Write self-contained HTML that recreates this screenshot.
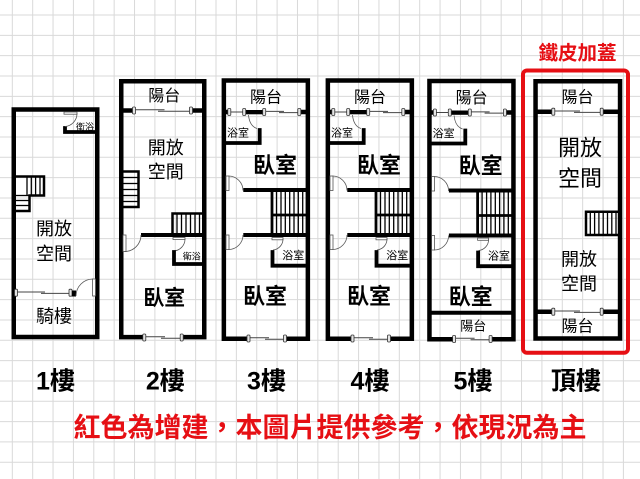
<!DOCTYPE html>
<html><head><meta charset="utf-8"><style>
html,body{margin:0;padding:0;background:#fff;}
svg{display:block;}
.t{font-family:"Liberation Sans","Noto Sans CJK TC",sans-serif;text-anchor:middle;fill:#000;}
.b{font-weight:bold;}
.w{fill:none;stroke:#000;stroke-width:4.5;stroke-linejoin:miter;}
.iw{fill:none;stroke:#000;stroke-width:3.8;stroke-linecap:square;}
.th{stroke:#444;stroke-width:1;fill:none;}
.cap{fill:#e4e4e4;stroke:#333;stroke-width:0.8;}
.leaf{fill:#fff;stroke:#555;stroke-width:0.8;}
.arc{fill:none;stroke:#555;stroke-width:0.8;}
.st{fill:none;stroke:#000;stroke-width:2.5;}
.tr{stroke:#000;stroke-width:1.3;}
</style></head><body>
<svg width="640" height="479" viewBox="0 0 640 479" xmlns="http://www.w3.org/2000/svg">
<rect width="640" height="479" fill="#fff"/>
<path stroke="#d9d9d9" stroke-width="1" fill="none" d="M12.3,0V479M32.67,0V479M53.04,0V479M73.41,0V479M93.78,0V479M114.15,0V479M134.52,0V479M154.89,0V479M175.26,0V479M195.63,0V479M216,0V479M236.37,0V479M256.74,0V479M277.11,0V479M297.48,0V479M317.85,0V479M338.22,0V479M358.59,0V479M378.96,0V479M399.33,0V479M419.7,0V479M440.07,0V479M460.44,0V479M480.81,0V479M501.18,0V479M521.55,0V479M541.92,0V479M562.29,0V479M582.66,0V479M603.03,0V479M623.4,0V479
M0,15H640M0,35.33H640M0,55.66H640M0,75.99H640M0,96.32H640M0,116.65H640M0,136.98H640M0,157.31H640M0,177.64H640M0,197.97H640M0,218.3H640M0,238.63H640M0,258.96H640M0,279.29H640M0,299.62H640M0,319.95H640M0,340.28H640M0,360.61H640M0,380.94H640M0,401.27H640M0,421.6H640M0,441.93H640M0,462.26H640"/>

<!-- Floor 1 -->
<g>
<path class="w" d="M13.75,109.5H97.25V337H13.75Z"/>
<path class="iw" d="M65,128V132H95"/>
<rect class="leaf" x="64" y="112" width="13" height="2.2"/>
<path class="arc" d="M77,113.5A13,13 0 0 1 65,126.5"/>
<text class="t" x="85" y="129.8" font-size="9">衛浴</text>
<path class="st" d="M15,176.5H44V195.5H29.5V211H15"/>
<line class="tr" x1="27" y1="176.5" x2="27" y2="195.5"/>
<line class="tr" x1="31.3" y1="176.5" x2="31.3" y2="195.5"/>
<line class="tr" x1="35.6" y1="176.5" x2="35.6" y2="195.5"/>
<line class="tr" x1="40" y1="176.5" x2="40" y2="195.5"/>
<line class="tr" x1="15" y1="195.5" x2="29.5" y2="195.5"/>
<line class="tr" x1="15" y1="200.5" x2="29.5" y2="200.5"/>
<line class="tr" x1="15" y1="205.5" x2="29.5" y2="205.5"/>
<text class="t" x="54" y="234.8" font-size="18">開放</text>
<text class="t" x="54" y="259.8" font-size="18">空間</text>
<line class="th" x1="16" y1="292" x2="45" y2="292"/>
<line class="th" x1="41" y1="293.4" x2="70.5" y2="293.4" stroke-width="1.4"/>
<rect class="cap" x="14.5" y="289.2" width="3" height="7" rx="1"/>
<rect class="cap" x="69" y="289.2" width="3" height="7" rx="1"/>
<rect x="72" y="290.5" width="4" height="6" fill="#000"/>
<path class="arc" d="M76,296A17,17 0 0 1 93,279"/>
<rect class="leaf" x="92.5" y="279" width="3" height="17"/>
<text class="t" x="54" y="322.5" font-size="18">騎樓</text>
</g>

<!-- Floor 2 -->
<g>
<path class="w" d="M144,337.1H121.25V81.25H204.25V337.1H182"/>
<line x1="121.25" y1="110.5" x2="133" y2="110.5" stroke="#000" stroke-width="4.5"/>
<line x1="191" y1="110.5" x2="204.25" y2="110.5" stroke="#000" stroke-width="4.5"/>
<line class="th" x1="134" y1="109.8" x2="164.5" y2="109.8"/>
<line class="th" x1="158" y1="111.2" x2="191" y2="111.2" stroke-width="1.3"/>
<rect class="cap" x="132.5" y="107" width="3" height="7" rx="1"/>
<rect class="cap" x="189.5" y="107" width="3" height="7" rx="1"/>
<text class="t" x="164.3" y="100.8" font-size="16">陽台</text>
<text class="t" x="165.8" y="153.8" font-size="18">開放</text>
<text class="t" x="165.8" y="178.2" font-size="18">空間</text>
<path class="st" d="M123,171.5H138.5V207H123"/>
<line class="tr" x1="123" y1="177.5" x2="138.5" y2="177.5"/>
<line class="tr" x1="123" y1="183.5" x2="138.5" y2="183.5"/>
<line class="tr" x1="123" y1="189.5" x2="138.5" y2="189.5"/>
<line class="tr" x1="123" y1="195.5" x2="138.5" y2="195.5"/>
<line class="tr" x1="123" y1="201.5" x2="138.5" y2="201.5"/>
<path class="st" d="M172.5,235V213.5H203"/>
<line class="tr" x1="177" y1="213.5" x2="177" y2="235"/>
<line class="tr" x1="181.5" y1="213.5" x2="181.5" y2="235"/>
<line class="tr" x1="186" y1="213.5" x2="186" y2="235"/>
<line class="tr" x1="190.5" y1="213.5" x2="190.5" y2="235"/>
<line class="tr" x1="195" y1="213.5" x2="195" y2="235"/>
<line class="tr" x1="199.5" y1="213.5" x2="199.5" y2="235"/>
<line x1="141" y1="235" x2="204" y2="235" stroke="#000" stroke-width="4"/>
<rect class="leaf" x="123" y="235" width="3" height="16.5"/>
<path class="arc" d="M124.5,251.5A16.5,16.5 0 0 0 141,235"/>
<rect class="leaf" x="173" y="237.5" width="12" height="2"/>
<path class="arc" d="M185,239A12,12 0 0 1 173.5,251"/>
<path class="iw" d="M174,252V264H202"/>
<text class="t" x="191.7" y="259.3" font-size="9">衛浴</text>
<text class="t b" x="164.2" y="304.9" font-size="21">臥室</text>
<line class="th" x1="144.3" y1="336.8" x2="165" y2="336.8"/>
<line class="th" x1="161" y1="338.2" x2="181.7" y2="338.2"/>
<rect class="cap" x="142.8" y="334" width="3" height="7" rx="1"/>
<rect class="cap" x="180.2" y="334" width="3" height="7" rx="1"/>
</g>

<!-- Floor 3 -->
<g>
<path class="w" d="M248.5,338.7H223.85V80.5H307.85V338.7H285"/>
<line x1="223.85" y1="112" x2="228" y2="112" stroke="#000" stroke-width="4.5"/>
<line x1="301" y1="112" x2="307.85" y2="112" stroke="#000" stroke-width="4.5"/>
<line class="th" x1="230" y1="112" x2="243" y2="112"/>
<rect x="244.5" y="110" width="19" height="4.3" fill="#000"/>
<line class="th" x1="265" y1="111.4" x2="284" y2="111.4"/>
<line class="th" x1="279" y1="112.6" x2="298.5" y2="112.6"/>
<rect class="cap" x="227.8" y="108.5" width="3" height="7" rx="1"/>
<rect class="cap" x="242.7" y="108.5" width="3" height="7" rx="1"/>
<rect class="cap" x="262.7" y="108.5" width="3" height="7" rx="1"/>
<rect class="cap" x="297.8" y="108.5" width="3" height="7" rx="1"/>
<text class="t" x="266" y="102.5" font-size="16">陽台</text>
<path class="arc" d="M248.5,115Q249.5,126 257,128.5"/>
<path class="iw" d="M259.7,130V143H226"/>
<text class="t" x="238" y="136.5" font-size="11">浴室</text>
<text class="t b" x="275" y="172.9" font-size="22">臥室</text>
<rect class="leaf" x="226" y="176" width="3" height="14.5"/>
<path class="arc" d="M228.5,176A14.5,14.5 0 0 1 243,190.5"/>
<line x1="243.3" y1="190" x2="306" y2="190" stroke="#000" stroke-width="4"/>
<line x1="272" y1="190" x2="272" y2="235" stroke="#000" stroke-width="2.8"/>
<line x1="272" y1="215" x2="306" y2="215" stroke="#000" stroke-width="2.8"/>
<line class="tr" x1="276.5" y1="190" x2="276.5" y2="235"/>
<line class="tr" x1="281" y1="190" x2="281" y2="235"/>
<line class="tr" x1="285.3" y1="190" x2="285.3" y2="235"/>
<line class="tr" x1="289.7" y1="190" x2="289.7" y2="235"/>
<line class="tr" x1="294" y1="190" x2="294" y2="235"/>
<line class="tr" x1="298.3" y1="190" x2="298.3" y2="235"/>
<line class="tr" x1="302.7" y1="190" x2="302.7" y2="235"/>
<line x1="243.3" y1="235" x2="306" y2="235" stroke="#000" stroke-width="4"/>
<rect class="leaf" x="226" y="235" width="3" height="14.5"/>
<path class="arc" d="M243,235A14.5,14.5 0 0 1 228.5,249.5"/>
<rect class="leaf" x="272" y="237.6" width="11" height="2.2"/>
<path class="arc" d="M283,239A11,11 0 0 1 273,250"/>
<path class="iw" d="M272.5,252V265.7H304"/>
<text class="t" x="293.3" y="259" font-size="11">浴室</text>
<text class="t b" x="265" y="303.9" font-size="22">臥室</text>
<line class="th" x1="248.5" y1="337.8" x2="269" y2="337.8"/>
<line class="th" x1="265" y1="339.2" x2="285" y2="339.2"/>
<rect class="cap" x="247" y="335" width="3" height="7" rx="1"/>
<rect class="cap" x="283.5" y="335" width="3" height="7" rx="1"/>
</g>

<!-- Floor 4 -->
<g transform="translate(104,0)">
<path class="w" d="M248.5,338.7H223.85V80.5H307.85V338.7H285"/>
<line x1="223.85" y1="112" x2="228" y2="112" stroke="#000" stroke-width="4.5"/>
<line x1="301" y1="112" x2="307.85" y2="112" stroke="#000" stroke-width="4.5"/>
<line class="th" x1="230" y1="112" x2="243" y2="112"/>
<rect x="244.5" y="110" width="19" height="4.3" fill="#000"/>
<line class="th" x1="265" y1="111.4" x2="284" y2="111.4"/>
<line class="th" x1="279" y1="112.6" x2="298.5" y2="112.6"/>
<rect class="cap" x="227.8" y="108.5" width="3" height="7" rx="1"/>
<rect class="cap" x="242.7" y="108.5" width="3" height="7" rx="1"/>
<rect class="cap" x="262.7" y="108.5" width="3" height="7" rx="1"/>
<rect class="cap" x="297.8" y="108.5" width="3" height="7" rx="1"/>
<text class="t" x="266" y="102.5" font-size="16">陽台</text>
<path class="arc" d="M248.5,115Q249.5,126 257,128.5"/>
<path class="iw" d="M259.7,130V143H226"/>
<text class="t" x="238" y="136.5" font-size="11">浴室</text>
<text class="t b" x="275" y="172.9" font-size="22">臥室</text>
<rect class="leaf" x="226" y="176" width="3" height="14.5"/>
<path class="arc" d="M228.5,176A14.5,14.5 0 0 1 243,190.5"/>
<line x1="243.3" y1="190" x2="306" y2="190" stroke="#000" stroke-width="4"/>
<line x1="272" y1="190" x2="272" y2="235" stroke="#000" stroke-width="2.8"/>
<line x1="272" y1="215" x2="306" y2="215" stroke="#000" stroke-width="2.8"/>
<line class="tr" x1="276.5" y1="190" x2="276.5" y2="235"/>
<line class="tr" x1="281" y1="190" x2="281" y2="235"/>
<line class="tr" x1="285.3" y1="190" x2="285.3" y2="235"/>
<line class="tr" x1="289.7" y1="190" x2="289.7" y2="235"/>
<line class="tr" x1="294" y1="190" x2="294" y2="235"/>
<line class="tr" x1="298.3" y1="190" x2="298.3" y2="235"/>
<line class="tr" x1="302.7" y1="190" x2="302.7" y2="235"/>
<line x1="243.3" y1="235" x2="306" y2="235" stroke="#000" stroke-width="4"/>
<rect class="leaf" x="226" y="235" width="3" height="14.5"/>
<path class="arc" d="M243,235A14.5,14.5 0 0 1 228.5,249.5"/>
<rect class="leaf" x="272" y="237.6" width="11" height="2.2"/>
<path class="arc" d="M283,239A11,11 0 0 1 273,250"/>
<path class="iw" d="M272.5,252V265.7H304"/>
<text class="t" x="293.3" y="259" font-size="11">浴室</text>
<text class="t b" x="265" y="303.9" font-size="22">臥室</text>
<line class="th" x1="248.5" y1="337.8" x2="269" y2="337.8"/>
<line class="th" x1="265" y1="339.2" x2="285" y2="339.2"/>
<rect class="cap" x="247" y="335" width="3" height="7" rx="1"/>
<rect class="cap" x="283.5" y="335" width="3" height="7" rx="1"/>
</g>

<!-- Floor 5 -->
<g transform="translate(205.6,0.5)">
<path class="w" d="M248.5,338.7H223.85V80.5H307.85V338.7H285"/>
<line x1="223.85" y1="112" x2="228" y2="112" stroke="#000" stroke-width="4.5"/>
<line x1="301" y1="112" x2="307.85" y2="112" stroke="#000" stroke-width="4.5"/>
<line class="th" x1="230" y1="112" x2="243" y2="112"/>
<rect x="244.5" y="110" width="19" height="4.3" fill="#000"/>
<line class="th" x1="265" y1="111.4" x2="284" y2="111.4"/>
<line class="th" x1="279" y1="112.6" x2="298.5" y2="112.6"/>
<rect class="cap" x="227.8" y="108.5" width="3" height="7" rx="1"/>
<rect class="cap" x="242.7" y="108.5" width="3" height="7" rx="1"/>
<rect class="cap" x="262.7" y="108.5" width="3" height="7" rx="1"/>
<rect class="cap" x="297.8" y="108.5" width="3" height="7" rx="1"/>
<text class="t" x="266" y="102.5" font-size="16">陽台</text>
<path class="arc" d="M248.5,115Q249.5,126 257,128.5"/>
<path class="iw" d="M259.7,130V143H226"/>
<text class="t" x="238" y="136.5" font-size="11">浴室</text>
<text class="t b" x="275" y="172.9" font-size="22">臥室</text>
<rect class="leaf" x="226" y="176" width="3" height="14.5"/>
<path class="arc" d="M228.5,176A14.5,14.5 0 0 1 243,190.5"/>
<line x1="243.3" y1="190" x2="306" y2="190" stroke="#000" stroke-width="4"/>
<line x1="272" y1="190" x2="272" y2="235" stroke="#000" stroke-width="2.8"/>
<line x1="272" y1="215" x2="306" y2="215" stroke="#000" stroke-width="2.8"/>
<line class="tr" x1="276.5" y1="190" x2="276.5" y2="235"/>
<line class="tr" x1="281" y1="190" x2="281" y2="235"/>
<line class="tr" x1="285.3" y1="190" x2="285.3" y2="235"/>
<line class="tr" x1="289.7" y1="190" x2="289.7" y2="235"/>
<line class="tr" x1="294" y1="190" x2="294" y2="235"/>
<line class="tr" x1="298.3" y1="190" x2="298.3" y2="235"/>
<line class="tr" x1="302.7" y1="190" x2="302.7" y2="235"/>
<line x1="243.3" y1="235" x2="306" y2="235" stroke="#000" stroke-width="4"/>
<rect class="leaf" x="226" y="235" width="3" height="14.5"/>
<path class="arc" d="M243,235A14.5,14.5 0 0 1 228.5,249.5"/>
<rect class="leaf" x="272" y="237.6" width="11" height="2.2"/>
<path class="arc" d="M283,239A11,11 0 0 1 273,250"/>
<path class="iw" d="M272.5,252V265.7H304"/>
<text class="t" x="293.3" y="259" font-size="11">浴室</text>
<text class="t b" x="265" y="303.9" font-size="22">臥室</text>
<line x1="223.85" y1="312.2" x2="307.85" y2="312.2" stroke="#000" stroke-width="4"/>
<text class="t" x="267.7" y="330" font-size="13">陽台</text>
<line class="th" x1="248.5" y1="337.8" x2="269" y2="337.8"/>
<line class="th" x1="265" y1="339.2" x2="285" y2="339.2"/>
<rect class="cap" x="247" y="335" width="3" height="7" rx="1"/>
<rect class="cap" x="283.5" y="335" width="3" height="7" rx="1"/>
</g>

<!-- Roof -->
<g>
<rect x="523" y="70.5" width="105" height="282.3" rx="4" fill="none" stroke="#e60f14" stroke-width="4"/>
<text class="t b" x="577.5" y="59.5" font-size="19.5" style="fill:#e60f14">鐵皮加蓋</text>
<path class="w" d="M535.55,81.25H620.05V338.5H535.55Z"/>
<line x1="535.55" y1="111.7" x2="552" y2="111.7" stroke="#000" stroke-width="4.5"/>
<line x1="603" y1="111.7" x2="620.05" y2="111.7" stroke="#000" stroke-width="4.5"/>
<line class="th" x1="554" y1="111" x2="580" y2="111"/>
<line class="th" x1="574" y1="112.4" x2="601" y2="112.4" stroke-width="1.3"/>
<rect class="cap" x="551.8" y="108.2" width="3" height="7" rx="1"/>
<rect class="cap" x="600.2" y="108.2" width="3" height="7" rx="1"/>
<text class="t" x="577.5" y="102.5" font-size="16">陽台</text>
<text class="t" x="580" y="155.4" font-size="22">開放</text>
<text class="t" x="580" y="186.2" font-size="22">空間</text>
<path class="st" d="M618,211.7H586V235H618"/>
<line class="tr" x1="590.3" y1="211.7" x2="590.3" y2="235"/>
<line class="tr" x1="594.6" y1="211.7" x2="594.6" y2="235"/>
<line class="tr" x1="598.9" y1="211.7" x2="598.9" y2="235"/>
<line class="tr" x1="603.2" y1="211.7" x2="603.2" y2="235"/>
<line class="tr" x1="607.5" y1="211.7" x2="607.5" y2="235"/>
<line class="tr" x1="611.8" y1="211.7" x2="611.8" y2="235"/>
<line class="tr" x1="616" y1="211.7" x2="616" y2="235"/>
<text class="t" x="579" y="265.7" font-size="18">開放</text>
<text class="t" x="579" y="289.8" font-size="18">空間</text>
<line x1="535.55" y1="311.7" x2="552" y2="311.7" stroke="#000" stroke-width="4.5"/>
<line x1="603" y1="311.7" x2="620.05" y2="311.7" stroke="#000" stroke-width="4.5"/>
<line class="th" x1="554" y1="311" x2="580" y2="311"/>
<line class="th" x1="574" y1="312.4" x2="601" y2="312.4" stroke-width="1.3"/>
<rect class="cap" x="551.8" y="308.2" width="3" height="7" rx="1"/>
<rect class="cap" x="600.2" y="308.2" width="3" height="7" rx="1"/>
<text class="t" x="577.5" y="331.6" font-size="16">陽台</text>
</g>

<!-- Labels -->
<text class="t b" x="55.5" y="389.5" font-size="25">1樓</text>
<text class="t b" x="165.3" y="389.5" font-size="25">2樓</text>
<text class="t b" x="266.5" y="389.5" font-size="25">3樓</text>
<text class="t b" x="370" y="389.5" font-size="25">4樓</text>
<text class="t b" x="473" y="389.5" font-size="25">5樓</text>
<text class="t b" x="576" y="389.5" font-size="25">頂樓</text>
<text class="t b" x="330" y="437" font-size="27" style="fill:#e60f14">紅色為增建，本圖片提供參考，依現況為主</text>
</svg>
</body></html>
